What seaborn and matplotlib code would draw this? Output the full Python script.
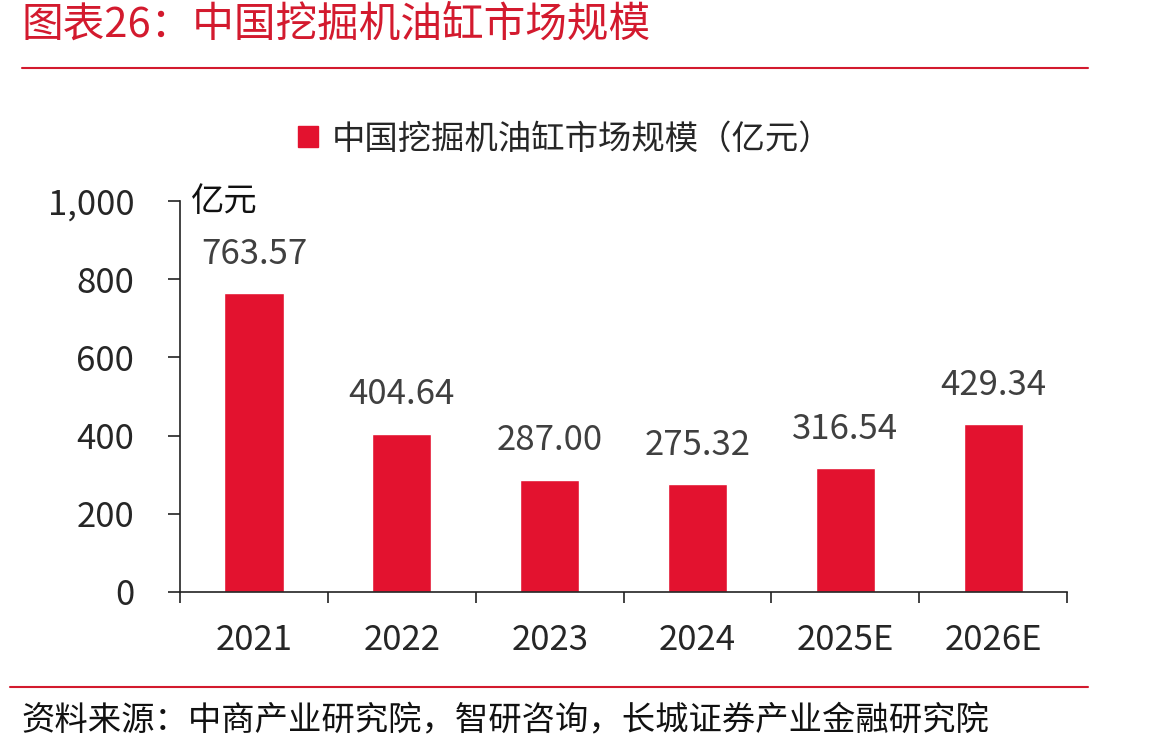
import matplotlib
matplotlib.use("Agg")
import matplotlib.pyplot as plt
import matplotlib.lines as mlines
import matplotlib.patches as mpatches
from matplotlib.ticker import FuncFormatter, MultipleLocator, FixedLocator
import seaborn as sns

years = ["2021", "2022", "2023", "2024", "2025E", "2026E"]
values = [763.57, 404.64, 287.00, 275.32, 316.54, 429.34]
series_name = "中国挖掘机油缸市场规模（亿元）"
title = "图表26：中国挖掘机油缸市场规模"
source = "资料来源：中商产业研究院，智研咨询，长城证券产业金融研究院"

red = "#E3122F"
title_red = "#D31A2E"

sns.set_theme(style="white")
plt.rcParams["font.family"] = ["Noto Sans CJK SC", "DejaVu Sans"]

fig = plt.figure(figsize=(11.49, 7.52), dpi=100)
ax = fig.add_axes([0.1567, 0.2128, 0.7720, 0.5199])

sns.barplot(x=years, y=values, color=red, width=0.4, saturation=1, ax=ax)

ax.set_ylim(0, 1000)
ax.set_xlim(-0.5, len(years) - 0.5)
ax.yaxis.set_major_locator(MultipleLocator(200))
ax.yaxis.set_major_formatter(FuncFormatter(lambda v, p: f"{int(v):,}"))
ax.set_xlabel("")
ax.set_ylabel("")

for s in ["top", "right"]:
    ax.spines[s].set_visible(False)
for s in ["left", "bottom"]:
    ax.spines[s].set_color("#222222")
    ax.spines[s].set_linewidth(1.2)

ax.tick_params(axis="y", which="major", direction="out", length=9, width=1.2,
               color="#222222", labelsize=25, pad=24, left=True)
ax.tick_params(axis="x", which="major", length=0, labelsize=25, pad=22, bottom=True)
ax.xaxis.set_minor_locator(FixedLocator([i - 0.5 for i in range(len(years) + 1)]))
ax.tick_params(axis="x", which="minor", direction="out", length=8, width=1.2,
               color="#222222", bottom=True)

for i, v in enumerate(values):
    ax.annotate(f"{v:.2f}", (i, v), xytext=(0, 28), textcoords="offset points",
                ha="center", va="center", fontsize=25, color="#404040")

ax.text(0.012, 1.0, "亿元", transform=ax.transAxes, fontsize=24,
        color="#111111", ha="left", va="center")

handle = mpatches.Patch(color=red, label=series_name)
fig.legend(handles=[handle], loc="center", bbox_to_anchor=(0.492, 0.815),
           frameon=False, fontsize=24, handlelength=0.6, handleheight=0.6,
           handletextpad=0.4)

fig.text(0.019, 0.966, title, fontsize=30, color=title_red, style="italic",
         ha="left", va="center")
fig.add_artist(mlines.Line2D([0.019, 0.947], [0.910, 0.910],
                             color=title_red, linewidth=1.5))
fig.add_artist(mlines.Line2D([0.009, 0.947], [0.086, 0.086],
                             color=title_red, linewidth=1.5))
fig.text(0.019, 0.042, source, fontsize=24, color="#111111", style="italic",
         ha="left", va="center")

fig.savefig("out.png", dpi=100)
